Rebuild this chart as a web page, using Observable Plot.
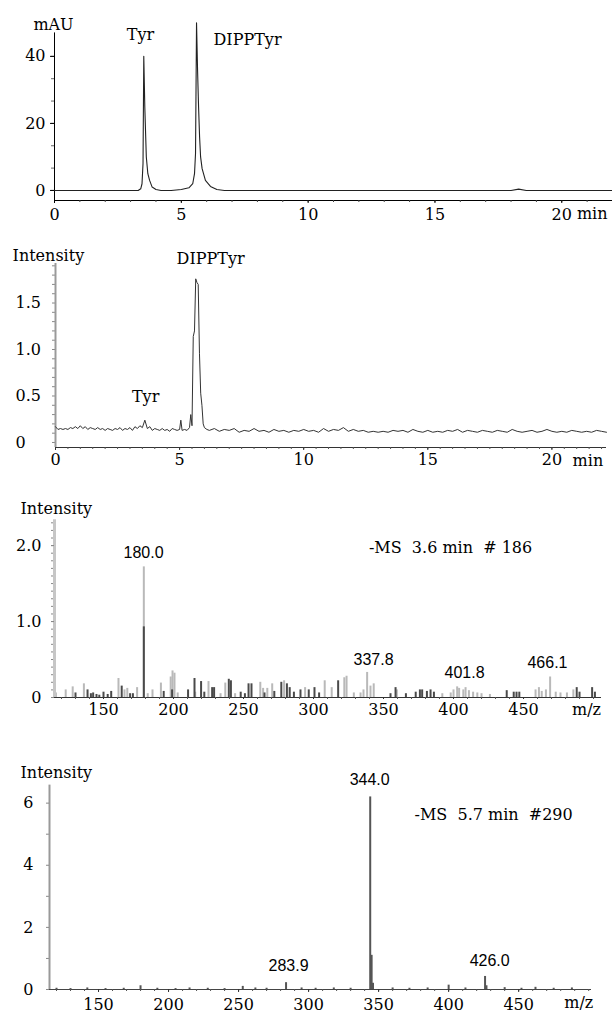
<!DOCTYPE html>
<html><head><meta charset="utf-8">
<script src="https://cdn.jsdelivr.net/npm/d3@7"></script>
<script src="https://cdn.jsdelivr.net/npm/@observablehq/plot@0.6"></script>
<style>
body{margin:0;background:#fff;}
#chart svg{display:block;}
</style></head><body><div id="chart"></div>
<script>
// ---------- Panel 1: UV chromatogram (mAU vs min) ----------
const uvTime = [0, 3.3, 3.4, 3.45, 3.49, 3.52, 3.56, 3.62, 3.68, 3.75, 3.85, 4.0, 4.2, 4.6, 5.0, 5.3, 5.45, 5.52, 5.56, 5.6, 5.64, 5.68, 5.72, 5.76, 5.82, 5.95, 6.15, 6.4, 6.7, 18.0, 18.3, 18.6, 22];
const uvMAU  = [0, 0, 0.5, 2, 8, 40, 25, 10, 5, 3, 1, 0.3, 0, 0, 0.3, 0.8, 2, 5, 11, 50, 36, 25, 16, 10, 6.5, 3, 1.2, 0.3, 0, 0, 0.4, 0, 0];
const uvYTicks = [0, 20, 40];
const uvXTicks = [0, 5, 10, 15, 20];

// ---------- Panel 2: TIC (Intensity vs min) ----------
const ticTime = [0,0.1,0.2,0.3,0.4,0.5,0.6,0.7,0.8,0.9,1.0,1.1,1.2,1.3,1.4,1.5,1.6,1.7,1.8,1.9,2.0,2.1,2.2,2.3,2.4,2.5,2.6,2.7,2.8,2.9,3.0,3.1,3.2,3.3,3.4,3.5,3.6,3.7,3.8,3.9,4.0,4.1,4.2,4.3,4.4,4.5,4.6,4.7,4.8,4.9,5.0,5.05,5.1,5.2,5.3,5.4,5.45,5.5,5.55,5.6,5.65,5.7,5.75,5.8,5.85,5.9,5.95,6.0,6.1,6.2,6.4,6.6,6.8,7.0,7.2,7.4,7.6,7.8,8.0,8.2,8.4,8.6,8.8,9.0,9.2,9.4,9.6,9.8,10.0,10.2,10.4,10.6,10.8,11.0,11.2,11.4,11.6,11.8,12.0,12.2,12.4,12.6,12.8,13.0,13.2,13.4,13.6,13.8,14.0,14.2,14.4,14.6,14.8,15.0,15.2,15.4,15.6,15.8,16.0,16.2,16.4,16.6,16.8,17.0,17.2,17.4,17.6,17.8,18.0,18.2,18.4,18.6,18.8,19.0,19.2,19.4,19.6,19.8,20.0,20.2,20.4,20.6,20.8,21.0,21.2,21.4,21.6,21.8,22.0,22.2];
const ticInt  = [0.17,0.14,0.15,0.14,0.15,0.14,0.16,0.15,0.17,0.15,0.18,0.15,0.17,0.14,0.16,0.15,0.14,0.16,0.14,0.15,0.13,0.15,0.14,0.13,0.15,0.14,0.16,0.13,0.15,0.14,0.16,0.13,0.17,0.15,0.18,0.16,0.24,0.15,0.17,0.13,0.15,0.14,0.13,0.15,0.13,0.14,0.12,0.15,0.14,0.13,0.14,0.24,0.13,0.14,0.13,0.16,0.30,0.18,1.14,1.20,1.76,1.72,1.70,0.96,0.53,0.40,0.20,0.16,0.14,0.13,0.15,0.12,0.14,0.13,0.15,0.11,0.13,0.12,0.15,0.12,0.13,0.11,0.14,0.12,0.13,0.11,0.13,0.12,0.14,0.12,0.13,0.11,0.15,0.12,0.14,0.13,0.16,0.12,0.14,0.12,0.13,0.11,0.12,0.11,0.12,0.11,0.13,0.12,0.13,0.11,0.14,0.12,0.11,0.13,0.11,0.12,0.11,0.13,0.12,0.14,0.11,0.13,0.12,0.11,0.13,0.12,0.11,0.13,0.12,0.11,0.14,0.12,0.11,0.12,0.13,0.11,0.12,0.14,0.12,0.11,0.12,0.11,0.13,0.12,0.11,0.12,0.11,0.13,0.12,0.11];
const ticYTicks = [0, 0.5, 1.0, 1.5];
const ticXTicks = [0, 5, 10, 15, 20];

// ---------- Panel 3: MS spectrum at 3.6 min ----------
const ms1LightMz  = [116,123,128,136,160.7,165,167,174,178.8,181.6,185,191,198,199.3,200.7,203,215.5,225,233.6,237,244,262,264,267,270.5,279,294,308,313,322,323.6,328.8,333.6,335.7,338.3,340.7,343,359.5,392,398,400,402.6,404,407,408.6,411,414,417,420,426,458.6,461,463,466,469,473,476.4,481,485.6];
const ms1LightInt = [0.06,0.10,0.14,0.18,0.25,0.10,0.12,0.13,1.72,0.05,0.10,0.19,0.27,0.35,0.32,0.06,0.07,0.21,0.05,0.19,0.05,0.20,0.12,0.12,0.18,0.22,0.13,0.22,0.13,0.26,0.28,0.06,0.06,0.10,0.33,0.15,0.18,0.10,0.05,0.06,0.10,0.14,0.12,0.10,0.13,0.09,0.07,0.06,0.05,0.04,0.10,0.13,0.08,0.10,0.27,0.07,0.06,0.06,0.10];
const ms1DarkMz   = [130,138.6,141,142.6,145,147,150,153,155.5,163,169,171,178.8,193,199,210.4,215,219.7,222,227.6,229,239.5,241,248,251,253.6,255.7,265,272,277,281,283,286,290.7,296.6,300.7,304,317.6,355,358.6,366,373,376,377.6,381,383.6,386,438,443,445,447,488,490,499,501];
const ms1DarkInt  = [0.06,0.10,0.05,0.06,0.04,0.03,0.07,0.04,0.08,0.15,0.05,0.05,0.93,0.08,0.10,0.10,0.25,0.21,0.07,0.13,0.13,0.24,0.22,0.07,0.05,0.18,0.18,0.06,0.08,0.20,0.18,0.13,0.07,0.10,0.10,0.13,0.06,0.22,0.05,0.13,0.05,0.07,0.10,0.10,0.08,0.10,0.07,0.09,0.07,0.07,0.07,0.13,0.07,0.13,0.07];
const ms1Peaks    = ["180.0", "337.8", "401.8", "466.1"];
const ms1YTicks = [0, 1.0, 2.0];
const mzTicks = [150, 200, 250, 300, 350, 400, 450];

// ---------- Panel 4: MS spectrum at 5.7 min ----------
const ms2Mz  = [120,130,142,155,168,180,192,205,215,228,240,253,262,270,283.9,295,305,318,330,344,345,346,360,372,385,400,412,426,427,440,452,462,475,488];
const ms2Int = [0.04,0.03,0.05,0.03,0.04,0.12,0.04,0.03,0.05,0.04,0.03,0.10,0.05,0.04,0.22,0.05,0.04,0.05,0.04,6.2,1.1,0.2,0.05,0.04,0.05,0.14,0.05,0.42,0.12,0.06,0.04,0.07,0.04,0.05];
const ms2Peaks = ["344.0", "283.9", "426.0"];
const ms2YTicks = [0, 2, 4, 6];

// ---------- helpers ----------
const SERIF = "DejaVu Serif", SANS = "Liberation Sans";
const zip = (xs, ys) => xs.map((x, i) => ({x, y: ys[i]}));
const range = (a, b, s) => { const r = []; for (let v = a; v <= b + 1e-9; v += s) r.push(+v.toFixed(4)); return r; };
const baseStyle = {fontFamily: SERIF, fontSize: "16px", color: "#000", background: "#fff"};
const root = document.getElementById("chart");

// Panel 1
root.append(Plot.plot({
  width: 612, height: 226, marginLeft: 54, marginRight: 0, marginTop: 19, marginBottom: 26,
  style: baseStyle,
  x: {domain: [0, 22], axis: null, label: null},
  y: {domain: [-3, 51], axis: null, label: null},
  marks: [
    Plot.ruleY([-3], {stroke: "#000", strokeWidth: 1}),
    Plot.ruleX([0], {y1: -3, y2: 47, stroke: "#000", strokeWidth: 1}),
    Plot.axisY({ticks: range(0, 46, 20 / 3), tickSize: 3, tickFormat: () => "", stroke: "#666"}),
    Plot.axisY({ticks: uvYTicks, tickSize: 4, tickPadding: 5, stroke: "#000", tickFormat: d => String(d), fontSize: 16}),
    Plot.axisX({ticks: range(0, 22, 1), tickSize: 2, tickFormat: () => "", stroke: "#444"}),
    Plot.axisX({ticks: uvXTicks, tickSize: 3, tickPadding: 5, stroke: "#000", tickFormat: d => String(d), fontSize: 16}),
    Plot.line(zip(uvTime, uvMAU), {x: "x", y: "y", stroke: "#222", strokeWidth: 1.1}),
    Plot.text(["mAU"], {x: -0.04, y: 49.3, text: d => d, fontSize: 16}),
    Plot.text(["Tyr"], {x: 3.39, y: 46.3, text: d => d, fontSize: 16}),
    Plot.text(["DIPPTyr"], {x: 7.61, y: 44.8, text: d => d, fontSize: 16}),
    Plot.text(["min"], {x: 21.2, y: -3, dy: 13, text: d => d, fontSize: 16})
  ]
}));

// Panel 2
root.append(Plot.plot({
  width: 612, height: 244, marginLeft: 55, marginRight: 6, marginTop: 41, marginBottom: 23,
  style: baseStyle,
  x: {domain: [0, 22.2], axis: null, label: null},
  y: {domain: [-0.054, 1.882], axis: null, label: null},
  marks: [
    Plot.ruleY([-0.054], {stroke: "#333", strokeWidth: 1}),
    Plot.axisY({ticks: range(0, 1.9, 0.1), tickSize: 3, tickFormat: () => "", stroke: "#888"}),
    Plot.ruleX([0], {y1: -0.054, y2: 1.925, stroke: "#9a9a9a", strokeWidth: 2}),
    Plot.text(ticYTicks, {x: 0, y: d => d, dx: -40, textAnchor: "start", text: d => d === 0 ? "0" : d.toFixed(1), fontSize: 16}),
    Plot.axisX({ticks: range(0, 22, 0.5), tickSize: 2, tickFormat: () => "", stroke: "#555"}),
    Plot.axisX({ticks: ticXTicks, tickSize: 3, tickPadding: 3, stroke: "#333", tickFormat: d => String(d), fontSize: 16}),
    Plot.line(zip(ticTime, ticInt), {x: "x", y: "y", stroke: "#333", strokeWidth: 1}),
    Plot.text(["Intensity"], {x: -1.73, y: 2.01, textAnchor: "start", text: d => d, fontSize: 16}),
    Plot.text(["DIPPTyr"], {x: 6.25, y: 1.98, text: d => d, fontSize: 16}),
    Plot.text(["Tyr"], {x: 3.63, y: 0.49, text: d => d, fontSize: 16}),
    Plot.text(["min"], {x: 21.45, y: -0.054, dy: 13, text: d => d, fontSize: 16})
  ]
}));

// Panel 3
root.append(Plot.plot({
  width: 612, height: 270, marginLeft: 54, marginRight: 11, marginTop: 47, marginBottom: 43,
  style: baseStyle,
  x: {domain: [115, 505.7], axis: null, label: null},
  y: {domain: [0, 2.37], axis: null, label: null},
  marks: [
    Plot.ruleX(zip(ms1LightMz, ms1LightInt), {x: "x", y1: 0, y2: "y", stroke: "#b9b9b9", strokeWidth: 2}),
    Plot.ruleX(zip(ms1DarkMz, ms1DarkInt), {x: "x", y1: 0, y2: "y", stroke: "#4a4a4a", strokeWidth: 2}),
    Plot.ruleY([0], {stroke: "#333", strokeWidth: 1}),
    Plot.axisY({ticks: range(0, 2.3, 0.1), tickSize: 3, tickFormat: () => "", stroke: "#888"}),
    Plot.ruleX([115], {y1: 0, y2: 2.34, stroke: "#c6c6c6", strokeWidth: 3}),
    Plot.axisY({ticks: ms1YTicks, tickSize: 3, tickPadding: 10, stroke: "#888", tickFormat: d => d === 0 ? "0" : d.toFixed(1), fontSize: 16}),
    Plot.axisX({ticks: range(120, 500, 10), tickSize: 2, tickFormat: () => "", stroke: "#555"}),
    Plot.axisX({ticks: mzTicks, tickSize: 2, tickPadding: 4, stroke: "#333", tickFormat: d => String(d), fontSize: 16}),
    Plot.text(["Intensity"], {x: 90.7, y: 2.49, textAnchor: "start", text: d => d, fontSize: 16}),
    Plot.text(["-MS  3.6 min  # 186"], {x: 397.9, y: 1.97, text: d => d, fontSize: 16}),
    Plot.text(ms1Peaks, {x: [178.6, 342.9, 407.9, 467.1], y: [1.91, 0.49, 0.33, 0.46], text: d => d, fontFamily: SANS, fontSize: 16}),
    Plot.text(["m/z"], {x: 495, y: 0, dy: 12, text: d => d, fontSize: 16})
  ]
}));

// Panel 4
root.append(Plot.plot({
  width: 612, height: 273, marginLeft: 49, marginRight: 21, marginTop: 44, marginBottom: 24,
  style: baseStyle,
  x: {domain: [115, 502], axis: null, label: null},
  y: {domain: [0, 6.6], axis: null, label: null},
  marks: [
    Plot.ruleX(zip(ms2Mz, ms2Int), {x: "x", y1: 0, y2: "y", stroke: "#555", strokeWidth: 2}),
    Plot.ruleY([0], {stroke: "#444", strokeWidth: 1}),
    Plot.axisY({ticks: [1, 3, 5], tickSize: 3, tickFormat: () => "", stroke: "#888"}),
    Plot.ruleX([115], {y1: 0, y2: 6.58, stroke: "#999", strokeWidth: 2}),
    Plot.axisY({ticks: ms2YTicks, tickSize: 3, tickPadding: 13, stroke: "#888", tickFormat: d => String(d), fontSize: 16}),
    Plot.axisX({ticks: range(120, 500, 10), tickSize: 2, tickFormat: () => "", stroke: "#555"}),
    Plot.axisX({ticks: mzTicks, tickSize: 3, tickPadding: 6, stroke: "#333", tickFormat: d => String(d), fontSize: 16}),
    Plot.text(["Intensity"], {x: 94.3, y: 6.99, textAnchor: "start", text: d => d, fontSize: 16}),
    Plot.text(["-MS  5.7 min  #290"], {x: 432.1, y: 5.63, text: d => d, fontSize: 16}),
    Plot.text(ms2Peaks, {x: [343.6, 285.7, 429.3], y: [6.76, 0.77, 0.93], text: d => d, fontFamily: SANS, fontSize: 16}),
    Plot.text(["m/z"], {x: 492.9, y: 0, dy: 13, text: d => d, fontSize: 16})
  ]
}));
</script></body></html>
